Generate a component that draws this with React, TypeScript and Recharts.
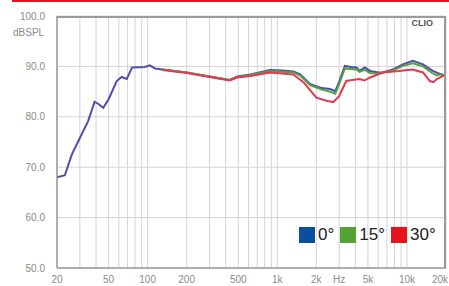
import { CartesianGrid, Line, LineChart, XAxis, YAxis } from "recharts";

const gridFreqs = [
  20, 30, 40, 50, 60, 70, 80, 90, 100, 200, 300, 400, 500, 600, 700, 800, 900, 1000, 2000, 3000, 4000,
  5000, 6000, 7000, 8000, 9000, 10000, 20000,
];
const tickLabels: Record<number, string> = {
  20: "20", 50: "50", 100: "100", 200: "200", 500: "500", 1000: "1k", 2000: "2k", 3000: "Hz",
  5000: "5k", 10000: "10k", 20000: "20k",
};
const levelTicks = [50, 60, 70, 80, 90, 100];

const freq0 = [
  20, 23, 26, 30, 34.7, 39, 42, 45.5, 50, 57.7, 63, 69, 76, 95, 104, 114, 130, 200, 300, 430, 490, 620,
  880, 1100, 1330, 1500, 1790, 2200, 2550, 2800, 3000, 3320, 3700, 4090, 4300, 4730, 5200, 6000, 6500,
  7800, 9300, 11100, 13300, 15800, 18300, 20000,
];
const db0 = [
  68, 68.4, 72.5, 75.8, 79.1, 83, 82.5, 81.8, 83.5, 87.1, 87.9, 87.5, 89.8, 89.9, 90.2, 89.6, 89.4, 88.8,
  88.0, 87.3, 88.0, 88.4, 89.3, 89.2, 89.0, 88.4, 86.5, 85.7, 85.5, 85.1, 87, 90.1, 89.9, 89.8, 89.1, 89.8,
  89.1, 88.8, 88.8, 89.4, 90.4, 91.1, 90.4, 89.1, 88.4, 88.1,
];

const freq15 = [
  130, 200, 300, 430, 490, 620, 880, 1330, 1500, 1790, 2200, 2550, 2800, 3000, 3320, 3700, 4090, 4300,
  4730, 5200, 6000, 7800, 9300, 11100, 13300, 15800, 17000, 18300, 20000,
];
const db15 = [
  89.4, 88.8, 88.0, 87.3, 87.9, 88.3, 89.1, 88.8, 88.2, 86.3, 85.4, 85.0, 84.6, 86.5, 89.6, 89.5, 89.4,
  88.9, 89.3, 88.7, 88.6, 89.2, 90.1, 90.6, 90.0, 88.6, 88.2, 88.5, 88.2,
];

const freq30 = [
  130, 200, 300, 430, 490, 620, 880, 1330, 1600, 2000, 2400, 2700, 3000, 3400, 3800, 4300, 4700, 5200,
  6500, 8700, 11000, 13300, 15000, 16000, 17000, 20000,
];
const db30 = [
  89.3, 88.7, 87.9, 87.2, 87.8, 88.1, 88.8, 88.4, 86.8, 83.8, 83.2, 82.9, 84.1, 87.1, 87.3, 87.5, 87.2,
  87.8, 88.8, 89.1, 89.4, 88.8, 87.1, 86.9, 87.5, 88.4,
];

const legendItems = [
  { label: "0°", color: "#0a4ea0" },
  { label: "15°", color: "#52a332" },
  { label: "30°", color: "#e8141c" },
];

const toPoints = (fs: number[], vs: number[]) => fs.map((f, i) => ({ f, db: vs[i] }));

const labelFont = "'Liberation Sans', Arial, sans-serif";

function FreqTick(props: any) {
  const { x, y, payload } = props;
  const text = tickLabels[payload.value] ?? "";
  if (!text) return null;
  const last = payload.value === 20000;
  return (
    <text
      x={last ? x + 2 : x}
      y={y + 7}
      textAnchor={last ? "end" : "middle"}
      fontSize={10}
      fill="#8a8a8a"
      fontFamily={labelFont}
    >
      {text}
    </text>
  );
}

export default function App() {
  return (
    <div style={{ position: "absolute", left: 0, top: 0, width: 449, height: 286, background: "#fff" }}>
      <div style={{ position: "absolute", left: 12, top: 0, width: 437, height: 2, background: "#e8141c" }} />
      <LineChart width={449} height={286} margin={{ top: 16, right: 3, bottom: 0, left: 0 }}>
        <CartesianGrid stroke="#d4d4d4" strokeWidth={1} />
        <XAxis
          dataKey="f"
          type="number"
          scale="log"
          domain={[20, 20000]}
          ticks={gridFreqs}
          interval={0}
          allowDataOverflow
          height={18}
          tickLine={false}
          axisLine={{ stroke: "#9a9a9a", strokeWidth: 1.5 }}
          tick={<FreqTick />}
        />
        <YAxis
          type="number"
          domain={[50, 100]}
          ticks={levelTicks}
          width={57}
          tickLine={false}
          axisLine={{ stroke: "#9a9a9a", strokeWidth: 1.5 }}
          tick={{ fontSize: 10, fill: "#8a8a8a", fontFamily: labelFont }}
          tickMargin={6}
          tickFormatter={(v) => Number(v).toFixed(1)}
        />
        <Line data={toPoints(freq0, db0)} dataKey="db" stroke="#4f4fa6" strokeWidth={2} dot={false} isAnimationActive={false} />
        <Line data={toPoints(freq15, db15)} dataKey="db" stroke="#55a045" strokeWidth={2} dot={false} isAnimationActive={false} />
        <Line data={toPoints(freq30, db30)} dataKey="db" stroke="#e6384e" strokeWidth={2} dot={false} isAnimationActive={false} />
      </LineChart>
      <div style={{ position: "absolute", left: 444, top: 16, width: 2, height: 252, background: "#9a9a9a" }} />
      <div style={{ position: "absolute", left: 57, top: 16, width: 389, height: 1.5, background: "#9a9a9a" }} />
      <div
        style={{
          position: "absolute", left: 13, top: 27, fontSize: 10, color: "#8a8a8a", fontFamily: labelFont,
        }}
      >
        dBSPL
      </div>
      <div
        style={{
          position: "absolute", right: 16, top: 18, fontSize: 9, fontWeight: "bold", color: "#555",
          fontFamily: labelFont,
        }}
      >
        CLIO
      </div>
      <div style={{ position: "absolute", left: 299, top: 225, display: "flex", alignItems: "center" }}>
        {legendItems.map((item) => (
          <div key={item.label} style={{ display: "flex", alignItems: "center", marginRight: 6 }}>
            <div style={{ width: 16, height: 16, background: item.color, marginRight: 3 }} />
            <span style={{ fontSize: 17, color: "#222", fontFamily: "'Liberation Sans', Arial, sans-serif" }}>
              {item.label}
            </span>
          </div>
        ))}
      </div>
    </div>
  );
}
